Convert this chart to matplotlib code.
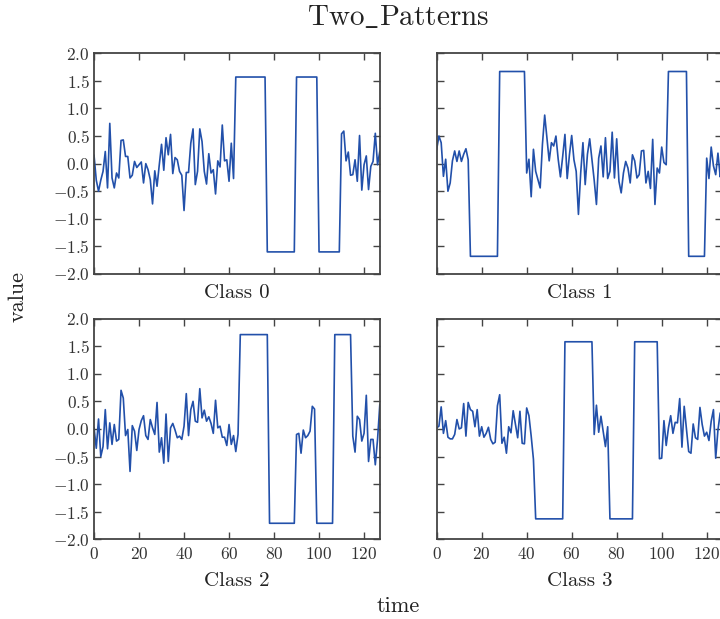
import matplotlib
matplotlib.use("Agg")
import matplotlib.pyplot as plt

# one sample per class, 128 time steps each
class_0 = [
    0.15, -0.3, -0.5, -0.3, -0.14, 0.22, -0.44, 0.73, -0.26, -0.44, -0.17, -0.26, 0.42, 0.43, 0.13, 0.13,
    -0.26, -0.21, 0.04, -0.07, -0.02, 0.03, -0.35, 0.0, -0.11, -0.29, -0.73, -0.13, -0.41, -0.02, 0.35, -0.12,
    0.47, 0.16, 0.53, -0.18, 0.11, 0.07, -0.14, -0.21, -0.85, -0.16, -0.16, 0.37, 0.63, -0.38, -0.14, 0.63,
    0.40, -0.14, -0.37, 0.18, -0.17, -0.11, -0.55, 0.05, -0.06, 0.70, 0.05, 0.07, -0.32, 0.37, -0.27, 1.57,
    1.57, 1.57, 1.57, 1.57, 1.57, 1.57, 1.57, 1.57, 1.57, 1.57, 1.57, 1.57, 1.57, -1.6, -1.6, -1.6,
    -1.6, -1.6, -1.6, -1.6, -1.6, -1.6, -1.6, -1.6, -1.6, -1.6, 1.57, 1.57, 1.57, 1.57, 1.57, 1.57,
    1.57, 1.57, 1.57, 1.57, -1.6, -1.6, -1.6, -1.6, -1.6, -1.6, -1.6, -1.6, -1.6, -1.6, 0.54, 0.59,
    0.05, 0.21, -0.21, -0.2, 0.07, -0.32, 0.51, -0.48, -0.02, 0.14, -0.47, -0.05, 0.04, 0.55, -0.02, 0.22,
]
class_1 = [
    0.26, 0.5, 0.38, -0.23, 0.08, -0.5, -0.35, 0.05, 0.23, 0.04, 0.23, 0.04, 0.17, 0.27, 0.07, -1.68,
    -1.68, -1.68, -1.68, -1.68, -1.68, -1.68, -1.68, -1.68, -1.68, -1.68, -1.68, -1.68, 1.67, 1.67, 1.67, 1.67,
    1.67, 1.67, 1.67, 1.67, 1.67, 1.67, 1.67, 1.67, -0.17, 0.08, -0.6, 0.26, -0.14, -0.29, -0.44, 0.35,
    0.88, 0.47, 0.05, 0.38, 0.32, 0.5, 0.08, -0.24, 0.13, 0.53, -0.27, 0.16, 0.51, 0.07, -0.14, -0.92,
    -0.17, 0.38, -0.38, 0.17, 0.45, 0.08, -0.3, -0.74, 0.1, 0.32, -0.24, 0.47, -0.27, -0.14, 0.57, -0.26,
    0.45, -0.32, -0.53, -0.17, 0.04, -0.08, -0.35, 0.16, 0.05, -0.26, -0.2, 0.23, 0.24, -0.35, -0.14, -0.45,
    0.44, -0.74, -0.08, -0.17, 0.3, 0.02, -0.02, 1.67, 1.67, 1.67, 1.67, 1.67, 1.67, 1.67, 1.67, 1.67,
    -1.68, -1.68, -1.68, -1.68, -1.68, -1.68, -1.68, -1.68, 0.1, -0.27, 0.3, -0.04, -0.2, 0.19, -0.24, 0.1,
]
class_2 = [
    0.02, -0.35, 0.18, -0.5, -0.32, 0.35, -0.36, 0.11, -0.28, 0.08, -0.22, -0.19, 0.7, 0.56, -0.12, -0.01,
    -0.77, 0.06, -0.04, -0.39, -0.01, 0.15, 0.24, -0.12, -0.19, 0.17, 0.02, -0.1, 0.48, -0.42, -0.16, -0.62,
    0.27, -0.59, 0.02, 0.1, -0.02, -0.16, -0.13, -0.19, 0.05, 0.64, -0.12, 0.35, 0.5, 0.14, 0.12, 0.73,
    0.2, 0.34, 0.14, 0.22, 0.1, -0.08, 0.52, 0.02, 0.05, -0.15, -0.15, -0.3, 0.08, -0.28, -0.12, -0.41,
    -0.1, 1.71, 1.71, 1.71, 1.71, 1.71, 1.71, 1.71, 1.71, 1.71, 1.71, 1.71, 1.71, 1.71, -1.71, -1.71,
    -1.71, -1.71, -1.71, -1.71, -1.71, -1.71, -1.71, -1.71, -1.71, -1.71, -0.1, -0.08, -0.44, -0.02, -0.16, -0.12,
    -0.04, 0.41, 0.36, -1.71, -1.71, -1.71, -1.71, -1.71, -1.71, -1.71, -1.71, 1.71, 1.71, 1.71, 1.71, 1.71,
    1.71, 1.71, 1.71, -0.13, -0.42, 0.23, 0.17, -0.22, -0.08, 0.61, -0.59, -0.19, -0.19, -0.65, -0.19, 0.44,
]
class_3 = [
    0.02, 0.05, 0.4, -0.08, 0.15, -0.15, -0.18, -0.18, -0.1, 0.17, 0.0, 0.02, 0.46, -0.13, 0.48, 0.35,
    0.32, 0.04, 0.35, -0.13, 0.04, -0.15, -0.08, 0.03, -0.19, -0.27, -0.24, 0.42, 0.62, -0.26, -0.15, -0.44,
    0.04, -0.07, 0.33, 0.08, -0.16, 0.32, -0.26, -0.27, 0.38, 0.24, -0.13, -0.55, -1.63, -1.63, -1.63, -1.63,
    -1.63, -1.63, -1.63, -1.63, -1.63, -1.63, -1.63, -1.63, -1.63, 1.58, 1.58, 1.58, 1.58, 1.58, 1.58, 1.58,
    1.58, 1.58, 1.58, 1.58, 1.58, 1.58, -0.1, 0.43, -0.06, 0.23, -0.04, -0.32, 0.04, -1.63, -1.63, -1.63,
    -1.63, -1.63, -1.63, -1.63, -1.63, -1.63, -1.63, -1.63, 1.58, 1.58, 1.58, 1.58, 1.58, 1.58, 1.58, 1.58,
    1.58, 1.58, 1.58, -0.54, -0.53, 0.15, -0.3, 0.02, 0.24, -0.08, 0.12, 0.11, 0.55, -0.33, 0.41, 0.0,
    -0.41, -0.44, 0.09, -0.16, -0.19, 0.39, 0.08, -0.13, -0.06, -0.21, 0.14, 0.35, -0.53, -0.02, 0.29, -0.1,
]

samples = [class_0, class_1, class_2, class_3]
class_names = ["Class 0", "Class 1", "Class 2", "Class 3"]
y_ticks = [-2.0, -1.5, -1.0, -0.5, 0.0, 0.5, 1.0, 1.5, 2.0]
x_ticks = [0, 20, 40, 60, 80, 100, 120]

plt.rcParams["font.family"] = "serif"
plt.rcParams["font.serif"] = ["cmr10"]
plt.rcParams["mathtext.fontset"] = "cm"
plt.rcParams["axes.formatter.use_mathtext"] = True
plt.rcParams["axes.unicode_minus"] = True

edge = "#444444"
txt = "#222222"

fig, axes = plt.subplots(2, 2, sharex=True, sharey=True, figsize=(7.2, 6.19), dpi=100)

# the right column runs past the figure edge in the reference
positions = [
    [0.1306, 0.5574, 0.3969, 0.3565],
    [0.6065, 0.5574, 0.3969, 0.3565],
    [0.1306, 0.1288, 0.3969, 0.3565],
    [0.6065, 0.1288, 0.3969, 0.3565],
]

for i, ax in enumerate(axes.flat):
    ax.set_position(positions[i])
    ax.plot(range(len(samples[i])), samples[i], color="#2250aa", lw=1.2)
    ax.set_xlim(0, 127)
    ax.set_ylim(-2.0, 2.0)
    ax.set_yticks(y_ticks)
    ax.set_xticks(x_ticks)
    ax.set_xlabel(class_names[i], fontsize=15, color=txt, labelpad=7)
    ax.tick_params(direction="in", top=True, right=True, length=5, width=1,
                   color=edge, labelsize=12.5, labelcolor="#333333", pad=3)
    ax.tick_params(axis="x", pad=5)
    for sp in ax.spines.values():
        sp.set_color(edge)
        sp.set_linewidth(1.3)
    if i % 2 == 1:
        ax.tick_params(labelleft=False)
    if i < 2:
        ax.tick_params(labelbottom=False)

fig.text(398 / 720, 1 - 18 / 619, r"$\mathrm{Two\_Patterns}$", ha="center", va="center",
         fontsize=21, color=txt)
fig.text(398 / 720, 1 - 606 / 619, "time", ha="center", va="center", fontsize=16, color=txt)
fig.text(18 / 720, 1 - 296 / 619, "value", ha="center", va="center", rotation=90,
         fontsize=16, color=txt)

fig.savefig("out.png", dpi=100)
